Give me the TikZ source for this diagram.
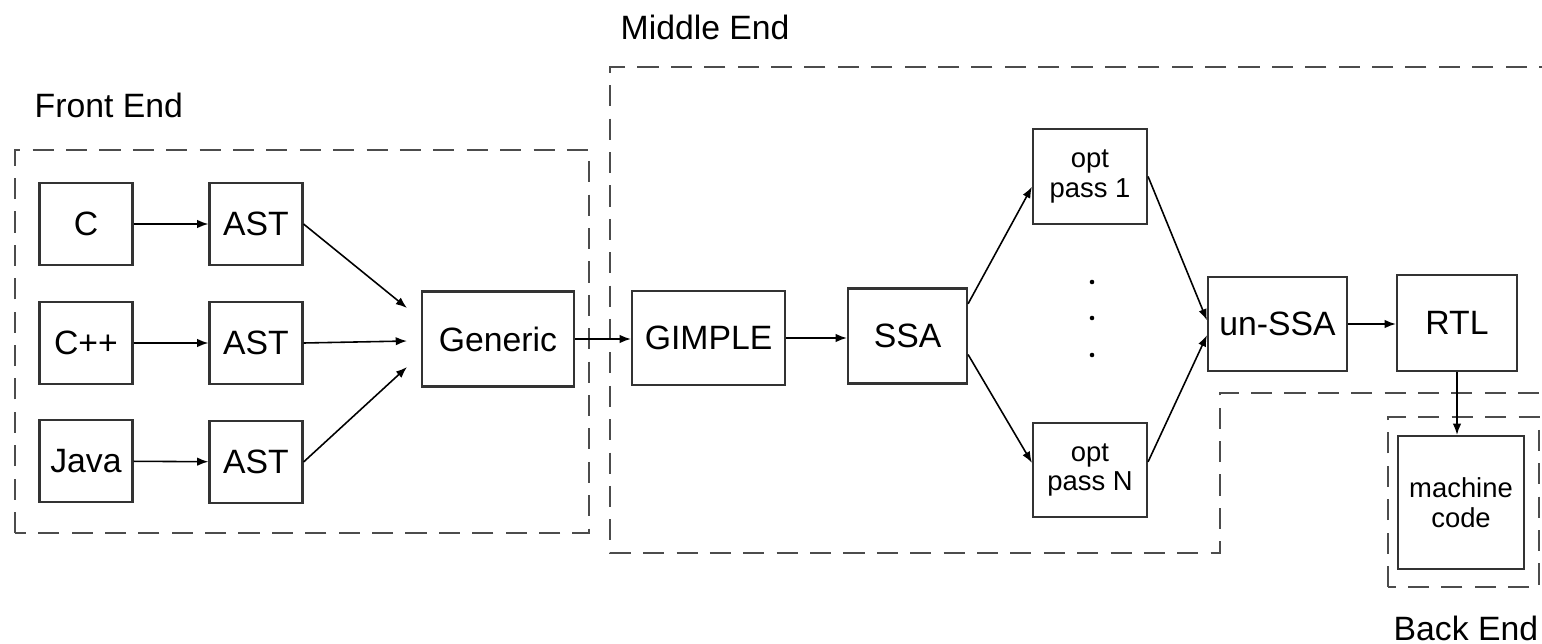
\documentclass[tikz,border=0pt]{standalone}
\usepackage{fontspec}
\setmainfont{Liberation Sans}
\usetikzlibrary{arrows.meta}

\begin{document}
\begin{tikzpicture}[
  blk/.style={draw=black!80, line width=0.6pt, inner sep=0pt, font={\fontsize{9.6}{11}\selectfont}},
  lang/.style={blk, minimum width=0.93cm, minimum height=0.82cm},
  smallblk/.style={blk, align=center, font={\fontsize{7.8}{8.5}\selectfont}},
  region/.style={draw=black!70, line width=0.7pt, dash pattern=on 6pt off 3.5pt},
  flow/.style={-{Latex[length=3.2pt,width=2.4pt]}, line width=0.45pt},
  lbl/.style={anchor=west, inner sep=0pt, font={\fontsize{9.6}{11}\selectfont}}
]
\useasboundingbox (0,0) rectangle (15.42,6.43);

%% dashed regions
\draw[region] (0.15,1.10) rectangle (5.89,4.93);                 %% front end
\draw[region] (15.6,5.76) -- (6.10,5.76) -- (6.10,0.90)
              -- (12.20,0.90) -- (12.20,2.50) -- (15.6,2.50);    %% middle end
\draw[region] (13.88,0.56) rectangle (15.39,2.26);               %% back end

%% region labels
\node[lbl] (fe) at (0.34,5.38) {Front End};
\node[lbl] (me) at (6.20,6.16) {Middle End};
\node[lbl] (be) at (13.93,0.15) {Back End};

%% front end blocks
\node[lang] (c)    at (0.86,4.19) {C};
\node[lang] (cpp)  at (0.86,3.00) {C++};
\node[lang] (java) at (0.86,1.82) {Java};
\node[lang] (ast1) at (2.56,4.19) {AST};
\node[lang] (ast2) at (2.56,3.00) {AST};
\node[lang] (ast3) at (2.56,1.81) {AST};
\node[blk, minimum width=1.52cm, minimum height=0.95cm] (generic) at (4.98,3.04) {Generic};

%% middle end blocks
\node[blk, minimum width=1.53cm, minimum height=0.94cm] (gimple) at (7.085,3.05) {GIMPLE};
\node[blk, minimum width=1.19cm, minimum height=0.95cm] (ssa)    at (9.075,3.07) {SSA};
\node[smallblk, minimum width=1.14cm, minimum height=0.95cm] (opt1) at (10.90,4.665) {opt\\pass 1};
\node[smallblk, minimum width=1.14cm, minimum height=0.94cm] (optn) at (10.90,1.73) {opt\\pass N};
\node[blk, minimum width=1.39cm, minimum height=0.94cm] (unssa)  at (12.775,3.19) {un-SSA};
\node[blk, minimum width=1.20cm, minimum height=0.96cm] (rtl)    at (14.57,3.20) {RTL};

%% back end block
\node[smallblk, minimum width=1.26cm, minimum height=1.33cm] (mcode) at (14.61,1.405) {machine\\code};

%% dots between the passes
\foreach \y in {3.61,3.25,2.88}
  \fill (10.92,\y) circle (0.65pt);

%% arrow ends in front of generic
\coordinate (g1) at (4.07,3.35);
\coordinate (g2) at (4.07,3.02);
\coordinate (g3) at (4.07,2.76);

%% edges
\draw[flow] (c)    -- (ast1);
\draw[flow] (cpp)  -- (ast2);
\draw[flow] (java) -- (ast3);
\draw[flow] (ast1.east) -- (g1);
\draw[flow] (ast2.east) -- (g2);
\draw[flow] (ast3.east) -- (g3);
\draw[flow] (generic.east) -- (generic.east -| gimple.west);
\draw[flow] (gimple.east) -- (gimple.east -| ssa.west);
\draw[flow] (ssa.28)  -- (opt1.190);
\draw[flow] (ssa.-17) -- (optn.173);
\draw[flow] (opt1.east) -- (unssa.177);
\draw[flow] (optn.8)    -- (unssa.189);
\draw[flow] (unssa.east) -- (unssa.east -| rtl.west);
\draw[flow] (rtl.south) -- (rtl.south |- mcode.north);
\end{tikzpicture}
\end{document}
